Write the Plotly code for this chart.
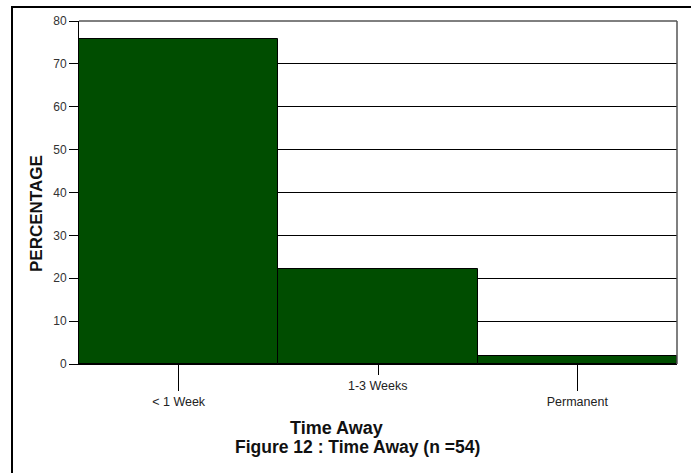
import plotly.graph_objects as go

categories = ["< 1 Week", "1-3 Weeks", "Permanent"]
percentages = [75.9, 22.2, 1.9]
y_ticks = [0, 10, 20, 30, 40, 50, 60, 70, 80]

W, H = 691, 473
L, R, T, B = 79, 14, 21, 109
pw, ph = W - L - R, H - T - B

def px_x(p):
    return (p - L) / pw

def px_y(p):
    return (H - B - p) / ph

xs = list(range(len(categories)))

fig = go.Figure()
fig.add_trace(go.Bar(
    x=xs, y=percentages, width=1,
    marker=dict(color="#004d00", line=dict(color="#000000", width=1)),
    showlegend=False,
))

font = "Arial, Liberation Sans, sans-serif"

fig.update_layout(
    width=W, height=H,
    margin=dict(l=L, r=R, t=T, b=B),
    paper_bgcolor="white", plot_bgcolor="white",
    font=dict(family=font, color="#222"),
    bargap=0,
    xaxis=dict(
        range=[-0.5, 2.5], tickmode="array",
        tickvals=[xs[0], xs[2]], ticktext=[categories[0], categories[2]],
        ticks="outside", ticklen=26, tickcolor="#000", tickwidth=1,
        tickfont=dict(size=12.5, family=font, color="#222"),
        minor=dict(tick0=1, dtick=2, ticks="outside", ticklen=10, tickcolor="#000", tickwidth=1),
        showgrid=False, zeroline=False, showline=True, linecolor="#000", linewidth=1,
    ),
    yaxis=dict(
        range=[0, 80], tickmode="array", tickvals=y_ticks,
        ticks="outside", ticklen=9, tickcolor="#000", tickwidth=1,
        tickfont=dict(size=12, family=font, color="#333"),
        showgrid=True, gridcolor="#000", gridwidth=1,
        zeroline=False, showline=True, linecolor="#000", linewidth=1,
    ),
)

annotations = [
    dict(text=categories[1], x=xs[1], xref="x", y=px_y(386), yref="paper",
         showarrow=False, font=dict(size=12.5, family=font, color="#222"), yanchor="middle"),
    dict(text="<b>Time Away</b>", x=px_x(336), xref="paper", y=px_y(428), yref="paper",
         showarrow=False, font=dict(size=18, family=font, color="#111"), yanchor="middle"),
    dict(text="<b>Figure 12 : Time Away (n =54)</b>", x=px_x(357), xref="paper", y=px_y(447), yref="paper",
         showarrow=False, font=dict(size=17.5, family=font, color="#111"), yanchor="middle"),
    dict(text="<b>PERCENTAGE</b>", x=px_x(36), xref="paper", y=px_y(214), yref="paper",
         showarrow=False, textangle=-90, font=dict(size=17, family=font, color="#111"),
         xanchor="center", yanchor="middle"),
]
fig.update_layout(annotations=annotations)

shapes = [
    dict(type="line", xref="paper", yref="paper", x0=px_x(12), x1=px_x(12), y0=px_y(6), y1=px_y(480),
         line=dict(color="#000", width=2)),
    dict(type="line", xref="paper", yref="paper", x0=px_x(11), x1=px_x(700), y0=px_y(7), y1=px_y(7),
         line=dict(color="#000", width=2)),
    dict(type="line", xref="paper", yref="paper", x0=0, x1=1, y0=1, y1=1,
         line=dict(color="#000", width=1)),
    dict(type="line", xref="paper", yref="paper", x0=1, x1=1, y0=0, y1=1,
         line=dict(color="#555", width=1.5)),
]
fig.update_layout(shapes=shapes)

fig.write_html("out.html", config={"displayModeBar": False},
               post_script="document.body.style.margin='0';document.body.style.overflow='hidden';")
